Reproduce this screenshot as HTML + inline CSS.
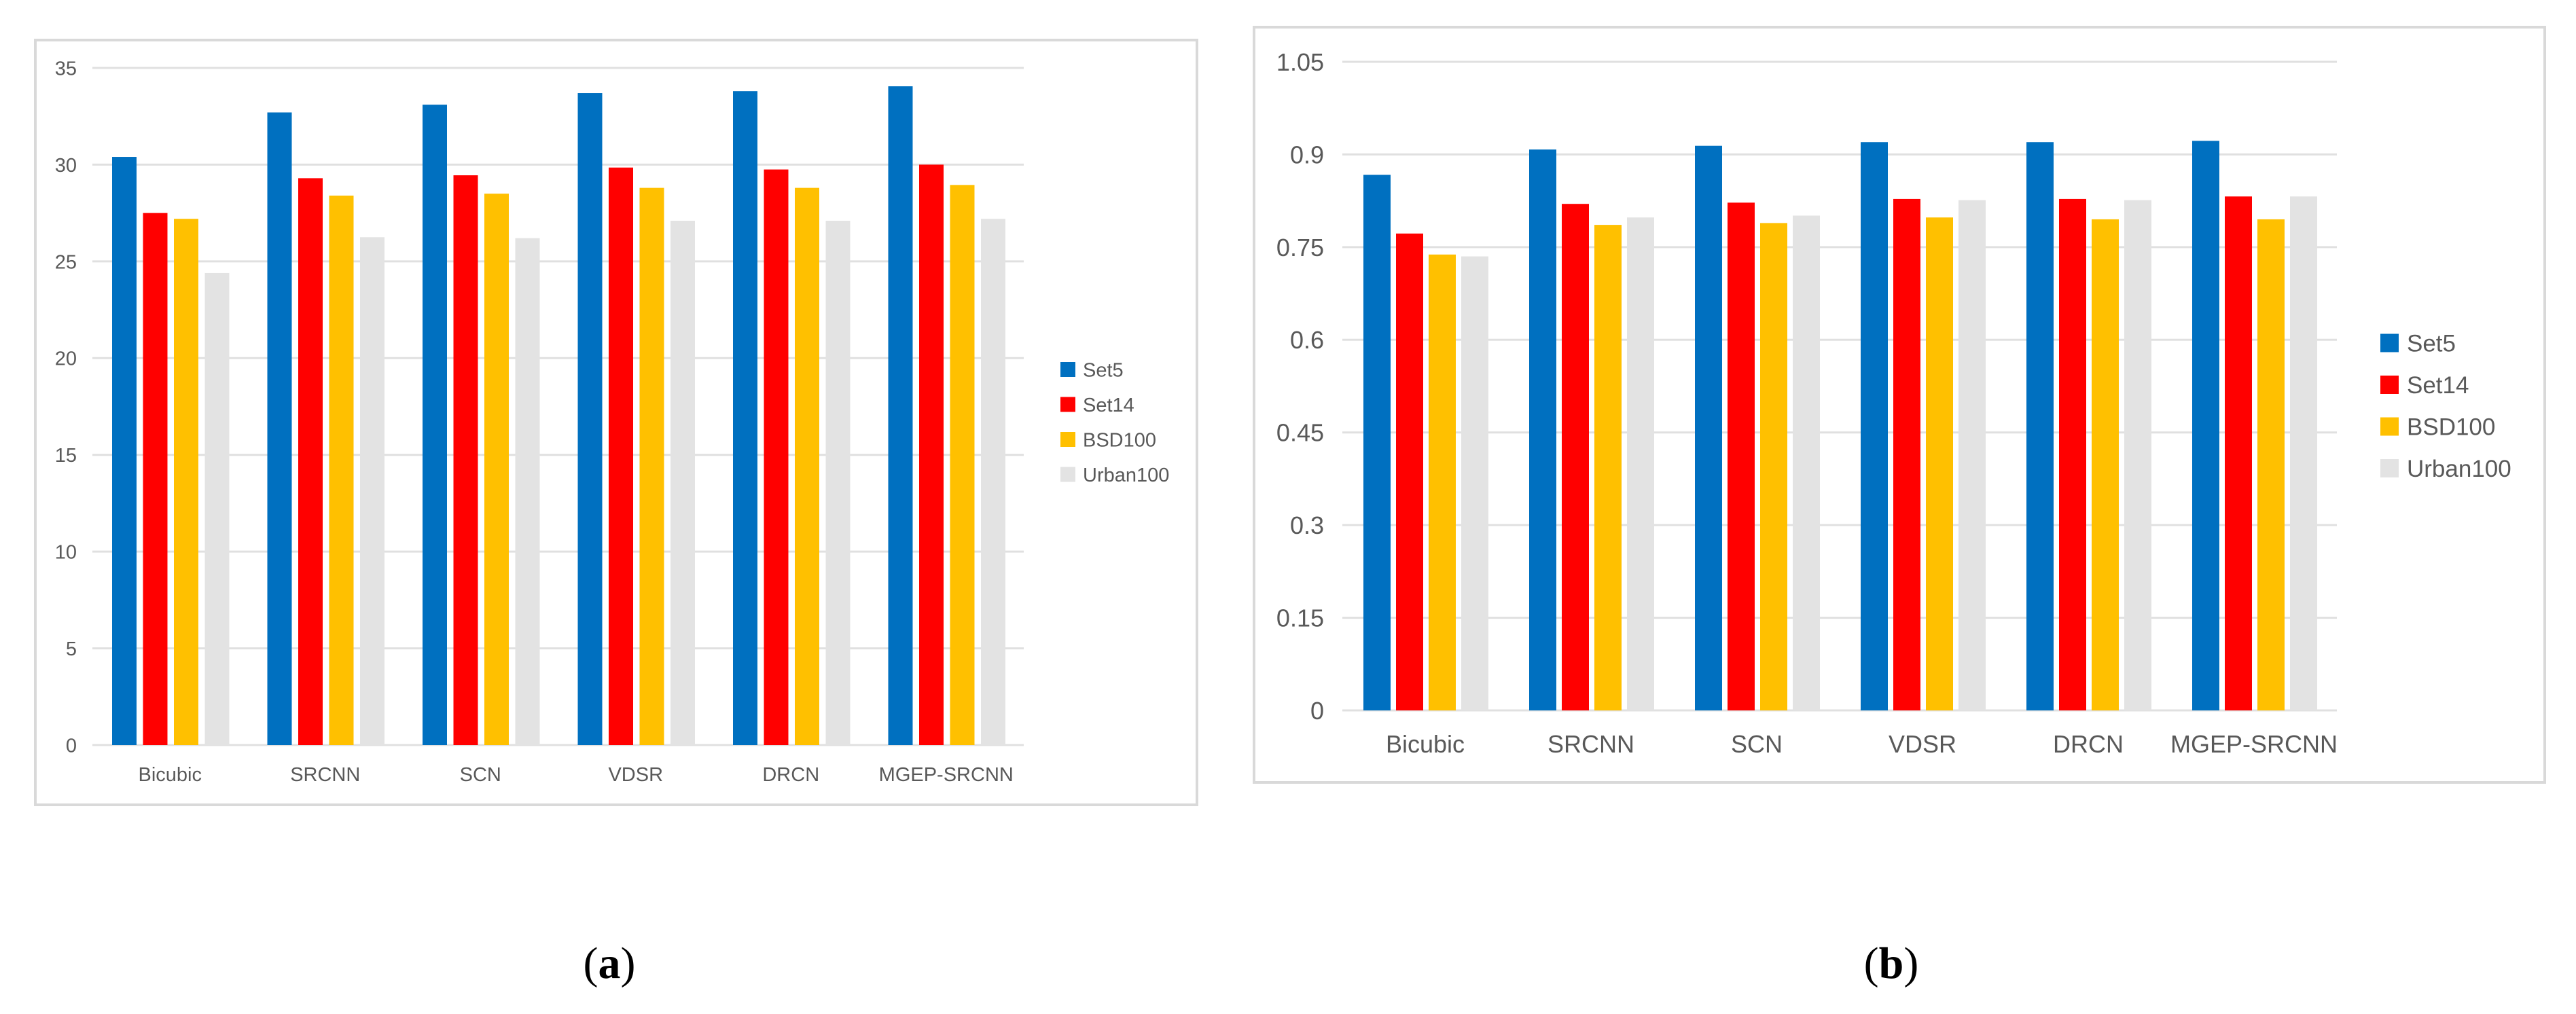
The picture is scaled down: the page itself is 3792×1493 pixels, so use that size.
<!DOCTYPE html>
<html><head><meta charset="utf-8"><style>
html,body{margin:0;padding:0;background:#fff;}
svg{display:block;}
</style></head><body>
<svg id="fig" xmlns="http://www.w3.org/2000/svg" width="3792" height="1493" viewBox="0 0 3792 1493">
<rect x="0" y="0" width="3792" height="1493" fill="#fff"/>
<rect x="52" y="59" width="1710" height="1126" fill="#fff" stroke="#d9d9d9" stroke-width="4"/>
<rect x="1846" y="40" width="1900" height="1112" fill="#fff" stroke="#d9d9d9" stroke-width="4"/>
<g id="ga"></g>
<g id="gb"></g>
<text x="897" y="1440" text-anchor="middle" font-family="Liberation Serif, serif" font-size="66">(<tspan font-weight="bold">a</tspan>)</text>
<text x="2784" y="1440" text-anchor="middle" font-family="Liberation Serif, serif" font-size="66">(<tspan font-weight="bold">b</tspan>)</text>
</svg>
<script>
const categories = ["Bicubic","SRCNN","SCN","VDSR","DRCN","MGEP-SRCNN"];
const seriesNames = ["Set5","Set14","BSD100","Urban100"];
const seriesColors = ["#0070c0","#ff0000","#ffc000","#e3e3e3"];
const psnrSet5 = [30.4, 32.7, 33.1, 33.7, 33.8, 34.05];
const psnrSet14 = [27.5, 29.3, 29.45, 29.85, 29.75, 30.0];
const psnrBSD100 = [27.2, 28.4, 28.5, 28.8, 28.8, 28.95];
const psnrUrban100 = [24.4, 26.25, 26.2, 27.1, 27.1, 27.2];
const psnrTicks = ["0","5","10","15","20","25","30","35"];
const psnrTickValues = [0,5,10,15,20,25,30,35];
const ssimSet5 = [0.867, 0.908, 0.914, 0.920, 0.920, 0.922];
const ssimSet14 = [0.772, 0.820, 0.822, 0.828, 0.828, 0.832];
const ssimBSD100 = [0.738, 0.786, 0.789, 0.798, 0.795, 0.795];
const ssimUrban100 = [0.735, 0.798, 0.801, 0.826, 0.826, 0.832];
const ssimTicks = ["0","0.15","0.3","0.45","0.6","0.75","0.9","1.05"];
const ssimTickValues = [0,0.15,0.3,0.45,0.6,0.75,0.9,1.05];

const NS = "http://www.w3.org/2000/svg";
function mk(tag, attrs, parent){
  const e = document.createElementNS(NS, tag);
  for (const k in attrs) e.setAttribute(k, attrs[k]);
  parent.appendChild(e);
  return e;
}
function drawChart(g, cfg, series, ticks, tickVals, tag){
  const yScale = v => cfg.y0 - (v / cfg.yMax) * (cfg.y0 - cfg.yTop);
  const xGroup = i => cfg.x0 + i * cfg.groupW;
  const x1 = cfg.x0 + categories.length * cfg.groupW;
  tickVals.forEach((v, i) => {
    const ln = mk("line", {x1: cfg.x0, x2: x1, y1: yScale(v), y2: yScale(v), stroke: "#e0e0e0", "stroke-width": 3}, g);
    
    
    const t = mk("text", {x: cfg.tickX, y: yScale(v) + cfg.tickFs * 0.36, "text-anchor": "end", "font-family": "Liberation Sans, sans-serif", "font-size": cfg.tickFs, fill: "#595959"}, g);
    t.textContent = ticks[i];
    
    
  });
  categories.forEach((c, i) => {
    series.forEach((s, j) => {
      const v = s[i];
      const r = mk("rect", {x: xGroup(i) + cfg.off + j * cfg.pitch, y: yScale(v), width: cfg.barW, height: cfg.y0 - yScale(v), fill: seriesColors[j]}, g);
      
      
    });
    const t = mk("text", {x: xGroup(i) + cfg.groupW / 2, y: cfg.catY, "text-anchor": "middle", "font-family": "Liberation Sans, sans-serif", "font-size": cfg.catFs, fill: "#595959"}, g);
    t.textContent = c;
    
    
  });
  seriesNames.forEach((n, j) => {
    const cy = cfg.legY + j * cfg.legStep;
    const sq = mk("rect", {x: cfg.legX, y: cy - cfg.legSq / 2, width: cfg.legSq, height: cfg.legSq, fill: seriesColors[j]}, g);
    
    
    const t = mk("text", {x: cfg.legTx, y: cy + cfg.legFs * 0.36, "font-family": "Liberation Sans, sans-serif", "font-size": cfg.legFs, fill: "#595959"}, g);
    t.textContent = n;
    
    
  });
}
drawChart(document.getElementById("ga"),
  {x0:136, groupW:228.5, off:29, barW:36, pitch:45.5, y0:1097, yTop:100, yMax:35, tickX:113, tickFs:29, catY:1150, catFs:29, legX:1561, legTx:1594, legY:544, legStep:51.5, legSq:22, legFs:29},
  [psnrSet5, psnrSet14, psnrBSD100, psnrUrban100], psnrTicks, psnrTickValues, "psnr");
drawChart(document.getElementById("gb"),
  {x0:1976, groupW:244, off:31, barW:40, pitch:48, y0:1046, yTop:91, yMax:1.05, tickX:1949, tickFs:36, catY:1108, catFs:36, legX:3504, legTx:3543, legY:505, legStep:61.5, legSq:27, legFs:35},
  [ssimSet5, ssimSet14, ssimBSD100, ssimUrban100], ssimTicks, ssimTickValues, "ssim");
</script>
</body></html>
